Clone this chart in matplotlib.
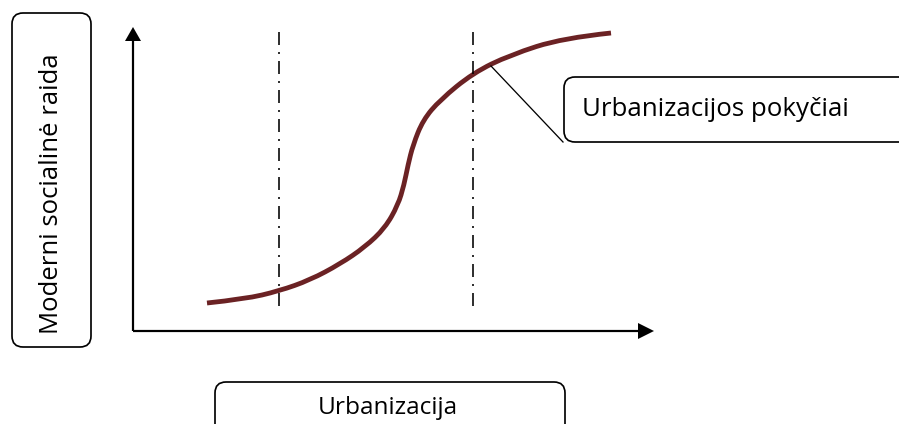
import matplotlib
matplotlib.use("Agg")
import matplotlib.pyplot as plt
from matplotlib.patches import FancyBboxPatch, PathPatch
from matplotlib.path import Path

plt.rcParams['font.family'] = ['Open Sans', 'DejaVu Sans']
plt.rcParams['lines.scale_dashes'] = False

# S-curve (canvas pixels, y grows downwards)
curve_x = [207, 245, 279, 310, 340, 365, 385, 398, 404, 408, 413,
           423, 440, 473, 510, 563, 611]
curve_y = [303, 299, 291, 280, 264, 247, 228, 205, 185, 165, 145,
           120, 100, 73, 55, 38, 33]

# two dash-dot marker lines
vline_x = [279, 473]
vline_top, vline_bottom = 32, 313

x_label = "Urbanizacija"
y_label = "Moderni socialinė raida"
callout = "Urbanizacijos pokyčiai"

W, H = 899, 424
fig = plt.figure(figsize=(W / 100, H / 100), dpi=100)
ax = fig.add_axes([0, 0, 1, 1])
ax.set_xlim(0, W)
ax.set_ylim(H, 0)
ax.axis('off')

px = 0.72  # one pixel in points

# axes with arrows
ox, oy = 133, 331
ax.plot([ox, ox], [oy, 40], color='black', lw=2.2 * px, solid_capstyle='butt')
ax.plot([ox, 640], [oy, oy], color='black', lw=2.2 * px, solid_capstyle='butt')
ax.fill([ox - 8, ox + 8, ox], [41, 41, 27], color='black', lw=0)
ax.fill([638, 638, 654], [oy - 8, oy + 8, oy], color='black', lw=0)

# dash-dot lines
for vx in vline_x:
    ax.plot([vx, vx], [vline_top, vline_bottom], color='black', lw=1.6 * px,
            dashes=(13 * px, 7 * px, 2 * px, 7 * px))

# the curve: read points used as quadratic control points -> smooth stroke
pts = list(zip(curve_x, curve_y))
verts = [pts[0]]
codes = [Path.MOVETO]
for i in range(1, len(pts) - 1):
    mid = ((pts[i][0] + pts[i + 1][0]) / 2, (pts[i][1] + pts[i + 1][1]) / 2)
    if i == len(pts) - 2:
        mid = pts[-1]
    verts += [pts[i], mid]
    codes += [Path.CURVE3, Path.CURVE3]
ax.add_patch(PathPatch(Path(verts, codes), fc='none', ec='#6b2224',
                       lw=4.8 * px, capstyle='butt'))

# callout leader
ax.plot([491, 563], [66, 142], color='black', lw=1.3 * px)

def rbox(x0, y0, x1, y1):
    b = FancyBboxPatch((x0, y0), x1 - x0, y1 - y0,
                       boxstyle="round,pad=0,rounding_size=11",
                       fc='white', ec='black', lw=1.7 * px, clip_on=False)
    ax.add_patch(b)

rbox(12, 13, 91, 347)
ax.text(52, 194, y_label, rotation=90, ha='center', va='center', fontsize=18.5)

rbox(215, 382, 565, 440)
ax.text(388, 414, x_label, ha='center', va='baseline', fontsize=17.6)

rbox(564, 77, 930, 142)
ax.text(582, 109, callout, ha='left', va='center', fontsize=18.6)

fig.savefig("out.png", dpi=100)
